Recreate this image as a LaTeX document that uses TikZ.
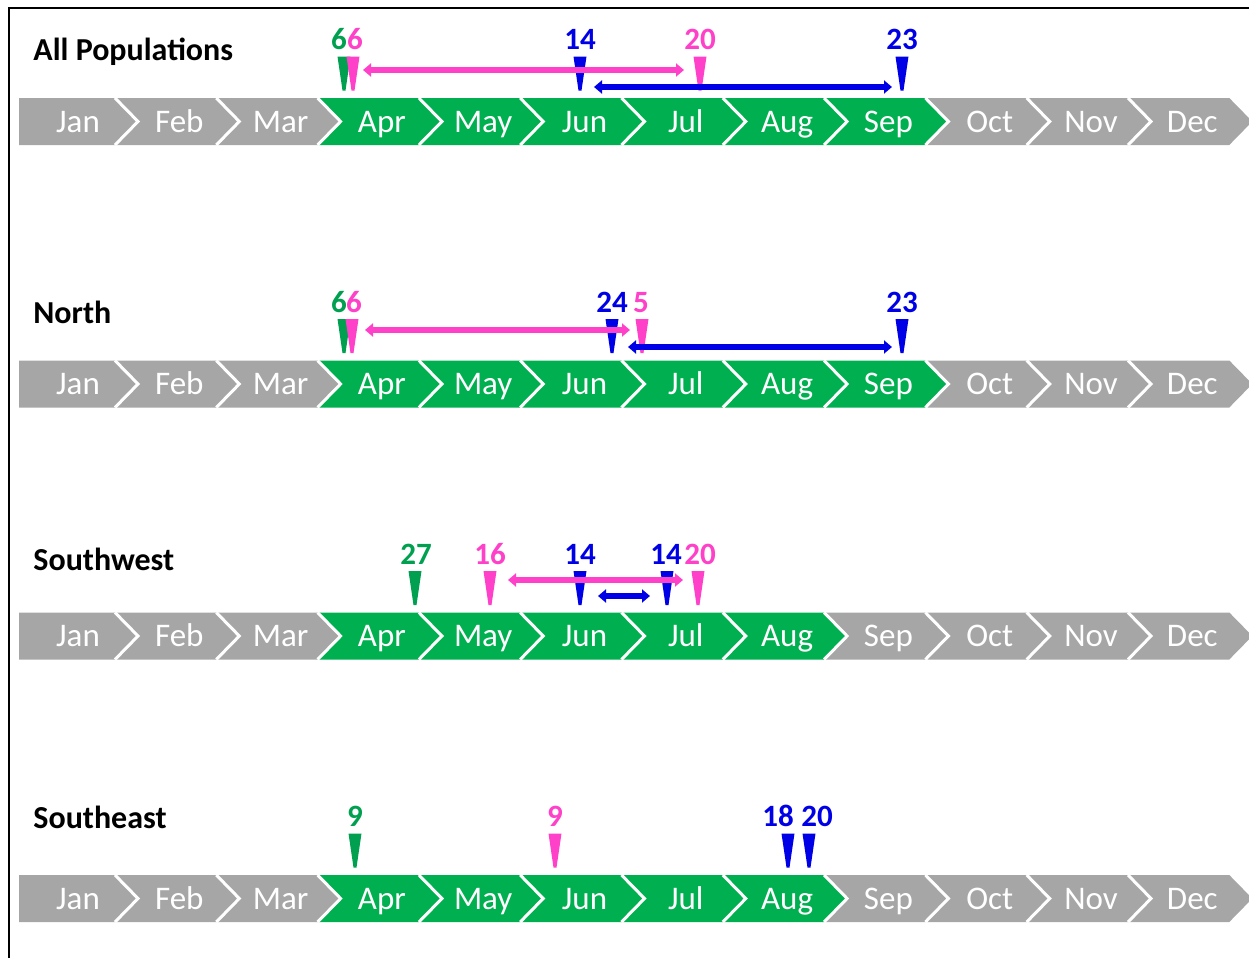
\documentclass[tikz,border=0pt]{standalone}
\usepackage{fontspec}
\setmainfont{Carlito}
\usetikzlibrary{arrows.meta}
\usetikzlibrary{positioning}

\definecolor{mygray}{RGB}{166,166,166}
\definecolor{mygreen}{RGB}{0,176,80}
\definecolor{darkgreen}{RGB}{0,160,80}
\definecolor{mypink}{RGB}{255,64,200}
\definecolor{myblue}{RGB}{0,0,230}

\tikzset{
  monthlbl/.style={text=white,anchor=base,inner sep=0pt,font=\fontsize{16.5}{18}\selectfont},
  numlbl/.style={anchor=base,inner sep=0pt,font=\bfseries\fontsize{15.5}{17}\selectfont},
  rowtitle/.style={anchor=base west,inner sep=0pt,font=\bfseries\fontsize{16}{18}\selectfont},
  span/.style={line width=3pt,{Triangle[width=6.5pt,length=4pt]}-{Triangle[width=6.5pt,length=4pt]}},
}

% row of month chevrons: name, mid y, last green month (0 = Jan)
\newcommand*\mytimeline[3]{%
  \foreach \m [count=\k from 0] in {Jan,Feb,Mar,Apr,May,Jun,Jul,Aug,Sep,Oct,Nov,Dec}{%
    \pgfmathsetmacro\xl{13.7+\k*101.3}
    \pgfmathsetmacro\xr{\xl+101.3}
    \def\col{mygreen}
    \ifnum\k<3 \def\col{mygray}\fi
    \ifnum\k>#3 \def\col{mygray}\fi
    \ifnum\k=0
      \fill[\col] (19,#2-23.5) -- (\xr,#2-23.5) -- (\xr+23,#2) -- (\xr,#2+23.5) -- (19,#2+23.5) -- cycle;
    \else
      \fill[\col] (\xl,#2-23.5) -- (\xr,#2-23.5) -- (\xr+23,#2) -- (\xr,#2+23.5) -- (\xl,#2+23.5) -- (\xl+23,#2) -- cycle;
      \draw[white,line width=1.5pt] (\xl,#2-23.5) -- (\xl+23,#2) -- (\xl,#2+23.5);
    \fi
    \node[monthlbl] (#1-\m) at (\xl+64.3,#2+10.5) {\m};
  }%
}
% wedge with its day number: [label shift] name, colour, x, mid y, text
\newcommand*\mymarker[6][0]{%
  \fill[#3] ({#4-6.5},{#5-65}) -- ({#4+6.5},{#5-65}) -- ({#4+1.5},{#5-31}) -- ({#4-1.5},{#5-31}) -- cycle;
  \node[numlbl,text=#3] (#2) at ({#4+#1},{#5-72}) {#6};
}
% double arrow between two named ends: name, colour, x left, x right, y
\newcommand*\myspan[5]{%
  \coordinate (#1-l) at (#3,#5);
  \coordinate (#1-r) at (#4,#5);
  \draw[span,#2] (#1-l) -- (#1-r);
}

\begin{document}
\begin{tikzpicture}[x=0.5pt,y=-0.5pt]
\useasboundingbox (0,0) rectangle (1249,958);
\draw[line width=1pt] (9,958) -- (9,8) -- (1249,8);

% All Populations
\node[rowtitle] (allT) at (33,61) {All Populations};
\mytimeline{all}{121.5}{8}
\mymarker[-5]{all-g6}{darkgreen}{344}{121.5}{6}
\mymarker[2]{all-p6}{mypink}{353}{121.5}{6}
\mymarker{all-b14}{myblue}{580}{121.5}{14}
\mymarker{all-p20}{mypink}{700}{121.5}{20}
\mymarker{all-b23}{myblue}{902}{121.5}{23}
\myspan{all-pk}{mypink}{363}{684}{70}
\myspan{all-bl}{myblue}{594}{892}{87}

% North
\node[rowtitle] (nT) at (33,323) {North};
\mytimeline{n}{384}{8}
\mymarker[-5]{n-g6}{darkgreen}{344}{384}{6}
\mymarker[2]{n-p6}{mypink}{352}{384}{6}
\mymarker{n-b24}{myblue}{612}{384}{24}
\mymarker[-1]{n-p5}{mypink}{642}{384}{5}
\mymarker{n-b23}{myblue}{902}{384}{23}
\myspan{n-pk}{mypink}{365}{630}{330}
\myspan{n-bl}{myblue}{628}{892}{347}

% Southwest
\node[rowtitle] (swT) at (33,570) {Southwest};
\mytimeline{sw}{636}{7}
\mymarker[1]{sw-g27}{darkgreen}{415}{636}{27}
\mymarker{sw-p16}{mypink}{490}{636}{16}
\mymarker{sw-b14}{myblue}{580}{636}{14}
\mymarker[-1]{sw-b14b}{myblue}{667}{636}{14}
\mymarker[2]{sw-p20}{mypink}{698}{636}{20}
\myspan{sw-pk}{mypink}{508}{683}{580}
\myspan{sw-bl}{myblue}{598}{650}{596}

% Southeast
\node[rowtitle] (seT) at (33,828) {Southeast};
\mytimeline{se}{898.5}{7}
\mymarker{se-g9}{darkgreen}{355}{898.5}{9}
\mymarker{se-p9}{mypink}{555}{898.5}{9}
\mymarker[-10]{se-b18}{myblue}{788}{898.5}{18}
\mymarker[8]{se-b20}{myblue}{809}{898.5}{20}
\end{tikzpicture}
\end{document}
